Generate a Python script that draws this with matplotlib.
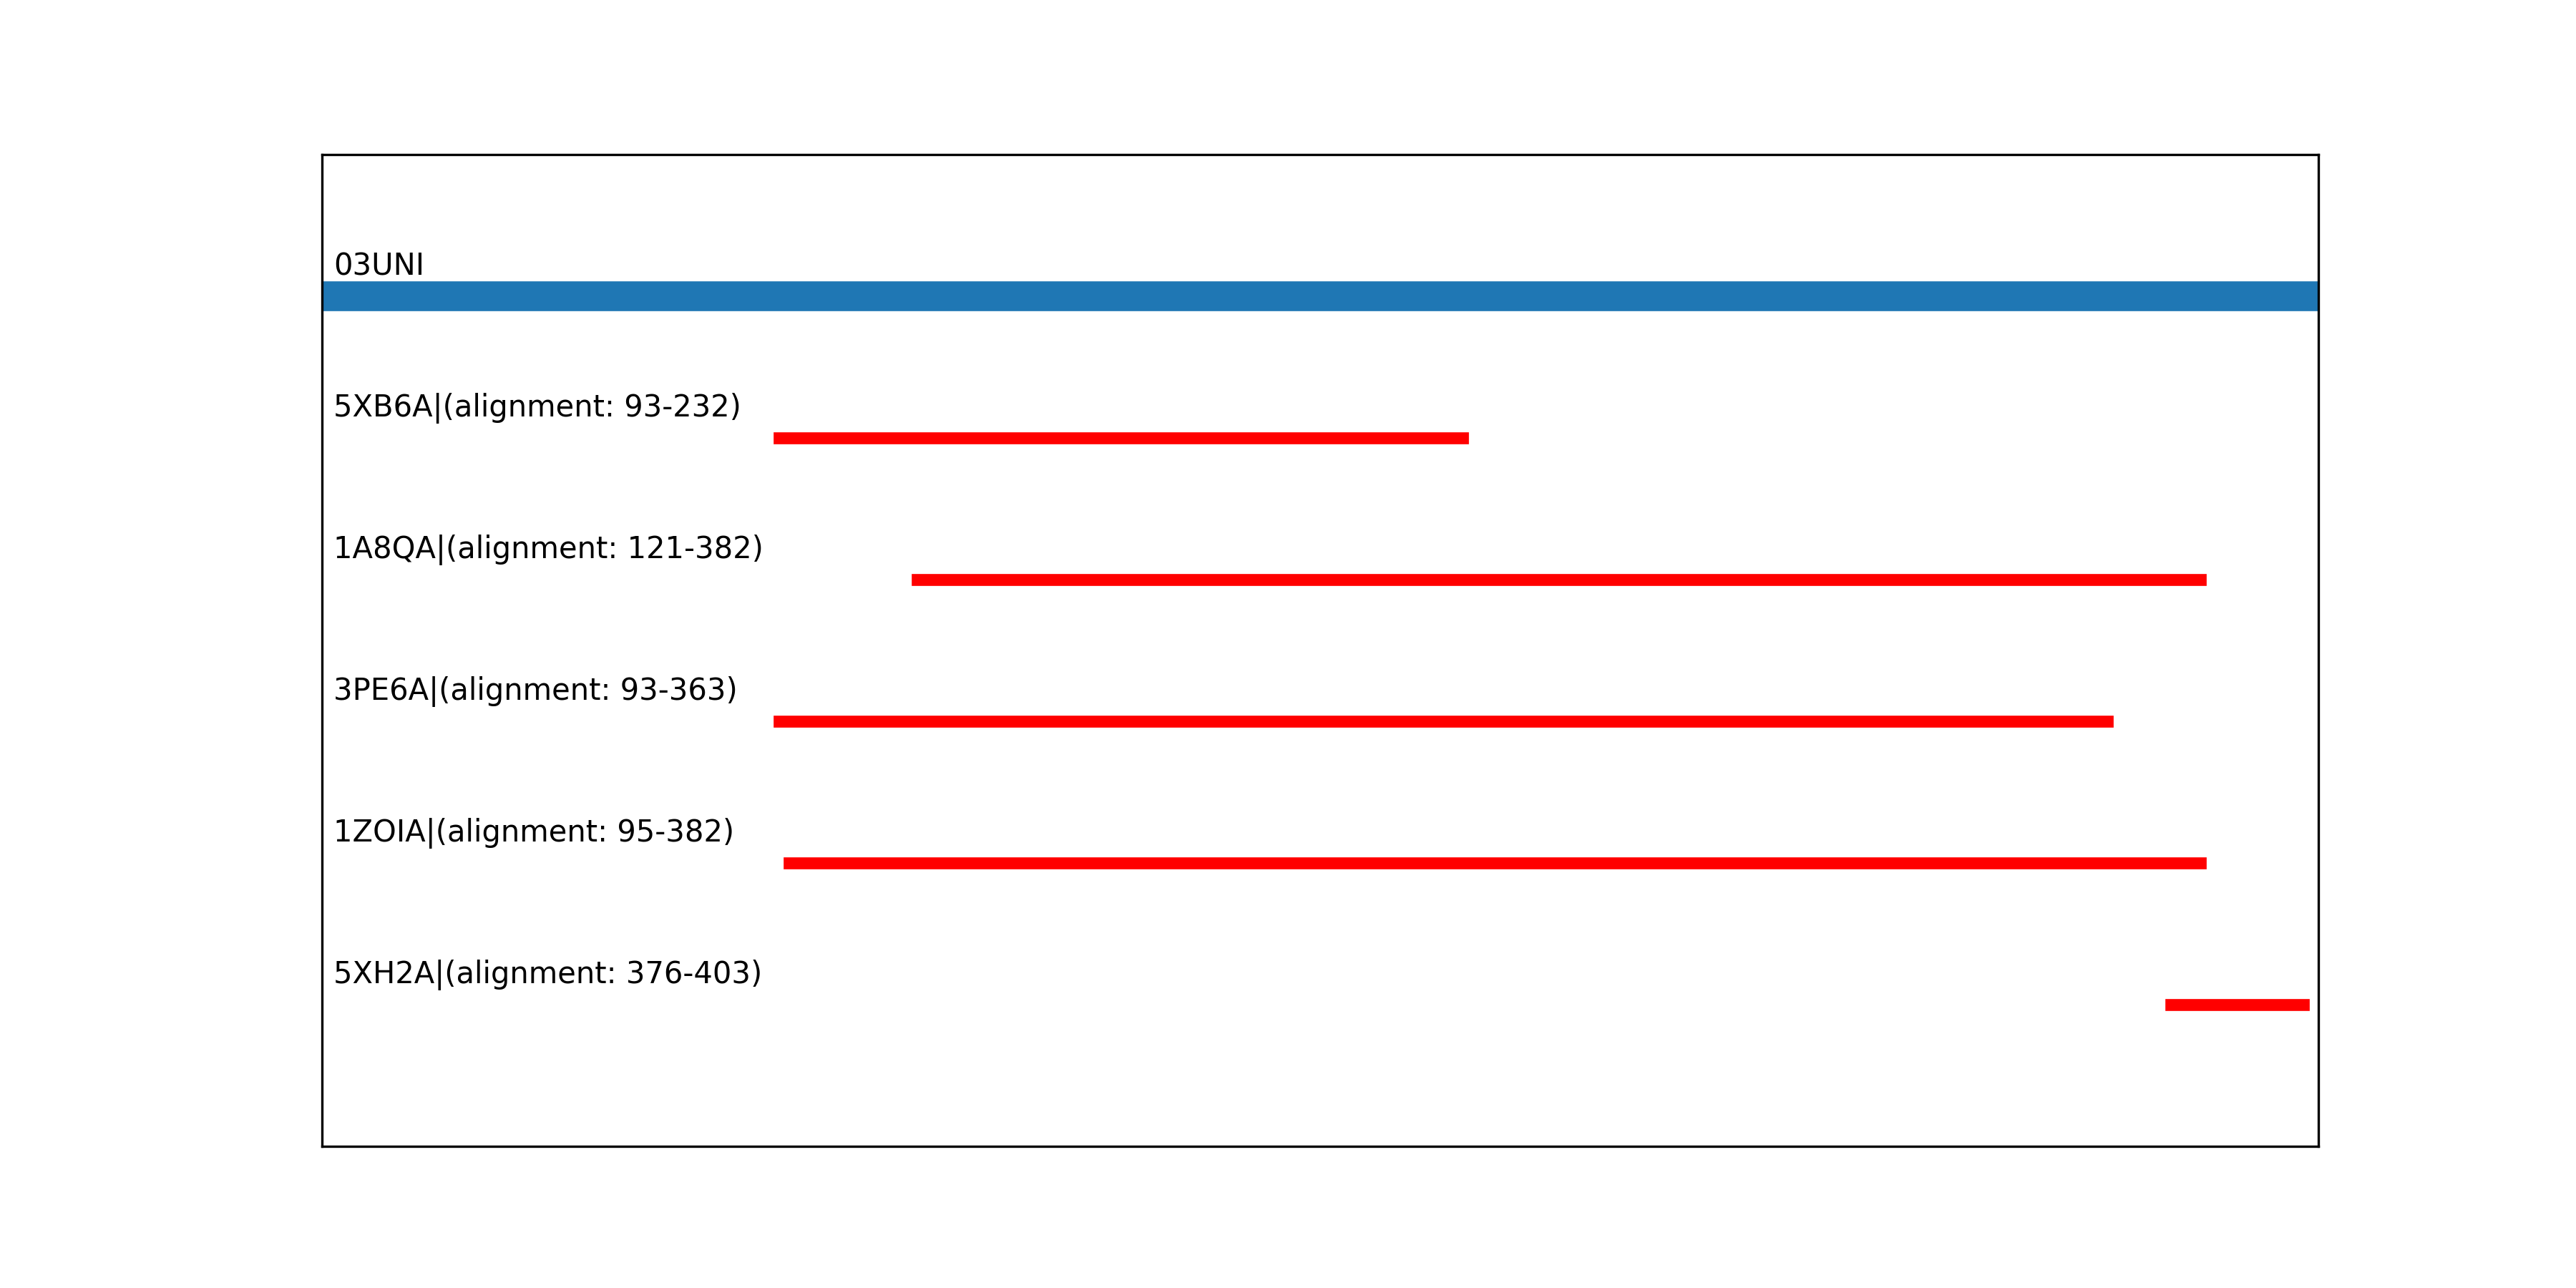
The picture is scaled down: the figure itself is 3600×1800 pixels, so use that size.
import matplotlib
matplotlib.use("Agg")
import matplotlib.pyplot as plt

# query sequence
query_name = "03UNI"
query_length = 406

# hits (name, alignment start, alignment end)
hit_names = ["5XB6A", "1A8QA", "3PE6A", "1ZOIA", "5XH2A"]
hit_starts = [93, 121, 93, 95, 376]
hit_ends = [232, 382, 363, 382, 403]

fig, ax = plt.subplots(figsize=(12, 6), dpi=300)

n_rows = len(hit_names) + 1
label_dx = 2.4
label_dy = 0.15

# query bar on top
ax.plot([0, query_length], [n_rows, n_rows], color="#1f77b4", linewidth=10)
ax.text(label_dx, n_rows + label_dy, query_name, fontsize=10, va="baseline")

# one red line per hit
for i, (name, start, end) in enumerate(zip(hit_names, hit_starts, hit_ends)):
    y = n_rows - 1 - i
    ax.plot([start, end], [y, y], color="red", linewidth=4)
    ax.text(label_dx, y + label_dy, f"{name}|(alignment: {start}-{end})",
            fontsize=10, va="baseline")

ax.set_xlim(0, query_length)
ax.set_ylim(0, n_rows + 1)
ax.set_xticks([])
ax.set_yticks([])

plt.savefig("out.png", dpi=300)
